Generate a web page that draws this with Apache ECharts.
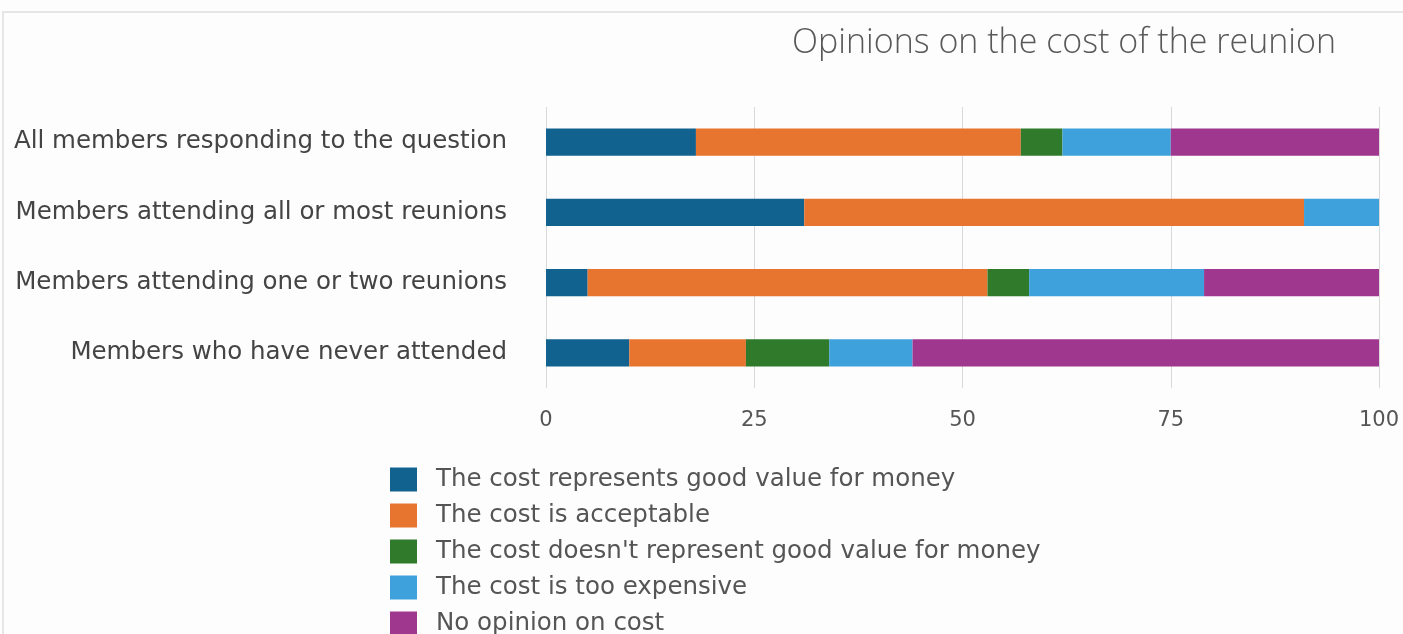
<!DOCTYPE html>
<html><head><meta charset="utf-8">
<script src="https://cdn.jsdelivr.net/npm/echarts@6/dist/echarts.min.js"></script>
<style>html,body{margin:0;padding:0;background:#fff}#c{width:1403px;height:634px}</style>
</head><body><div id="c"></div>
<script>
const categories = ["All members responding to the question","Members attending all or most reunions","Members attending one or two reunions","Members who have never attended"];
const seriesNames = ["The cost represents good value for money","The cost is acceptable","The cost doesn't represent good value for money","The cost is too expensive","No opinion on cost"];
const goodValue = [18, 31, 5, 10];
const acceptable = [39, 60, 48, 14];
const notGoodValue = [5, 0, 5, 10];
const tooExpensive = [13, 9, 21, 10];
const noOpinion = [25, 0, 21, 56];
const xTicks = [0, 25, 50, 75, 100];
const colors = ["#12628f","#e8752f","#2f7a2b","#3fa1db","#a0378e"];
const values = [goodValue, acceptable, notGoodValue, tooExpensive, noOpinion];

const chart = echarts.init(document.getElementById('c'));
chart.setOption({
  animation: false,
  backgroundColor: '#fdfdfd',
  title: {
    text: 'Opinions on the cost of the reunion',
    right: 62, top: 21,
    textStyle: {fontFamily: 'Open Sans', fontWeight: 300, fontSize: 34, color: '#595959'}
  },
  graphic: [{type:'rect', shape:{x:3,y:12,width:1420,height:640}, style:{fill:'none', stroke:'#e6e6e6', lineWidth:2}, silent:true}],
  legend: {
    orient: 'vertical', left: 390, top: 466, height: 200, padding: 0, itemGap: 9,
    itemWidth: 27, itemHeight: 24, icon: 'rect',
    textStyle: {fontFamily: 'DejaVu Sans', fontSize: 24.5, lineHeight: 24, color: '#555', padding:[3,0,0,14]},
    data: seriesNames
  },
  grid: {left: 546, right: 24, top: 107, bottom: 634-388, containLabel: false},
  xAxis: {
    type: 'value', min: 0, max: 100, interval: 25,
    axisLine: {show: false}, axisTick: {show: false},
    splitLine: {lineStyle: {color: '#d9d9d9', width: 1}},
    axisLabel: {fontFamily: 'DejaVu Sans', fontSize: 21, color: '#555', margin: 22,
      formatter: v => xTicks.includes(v) ? String(v) : ''}
  },
  yAxis: {
    type: 'category', inverse: true, data: categories,
    axisLine: {show: false}, axisTick: {show: false},
    axisLabel: {fontFamily: 'DejaVu Sans', fontSize: 24.5, color: '#444', margin: 39}
  },
  series: seriesNames.map((n, i) => ({
    name: n, type: 'bar', stack: 'total', barWidth: '39%',
    itemStyle: {color: colors[i]},
    data: values[i]
  }))
});
</script></body></html>
